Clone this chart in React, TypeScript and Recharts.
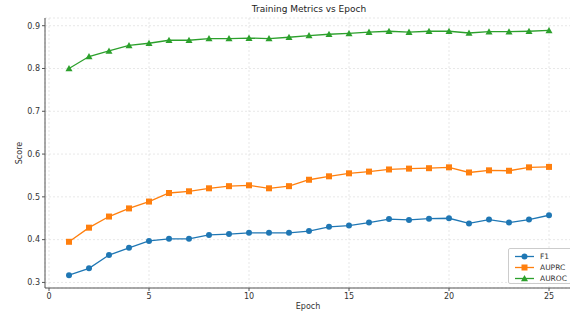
import React from "react";
import {
  LineChart,
  Line,
  XAxis,
  YAxis,
  CartesianGrid,
} from "recharts";

const epochs = [1, 2, 3, 4, 5, 6, 7, 8, 9, 10, 11, 12, 13, 14, 15, 16, 17, 18, 19, 20, 21, 22, 23, 24, 25];

const f1 = [
  0.317, 0.333, 0.364, 0.381, 0.397, 0.402, 0.402, 0.411, 0.413, 0.416, 0.416, 0.416, 0.42,
  0.43, 0.433, 0.44, 0.448, 0.446, 0.449, 0.45, 0.438, 0.447, 0.44, 0.447, 0.457,
];

const auprc = [
  0.395, 0.428, 0.454, 0.473, 0.489, 0.509, 0.513, 0.52, 0.525, 0.527, 0.52, 0.525, 0.54,
  0.548, 0.555, 0.559, 0.564, 0.566, 0.567, 0.569, 0.557, 0.562, 0.561, 0.569, 0.57,
];

const auroc = [
  0.8, 0.828, 0.841, 0.854, 0.859, 0.866, 0.866, 0.87, 0.87, 0.871, 0.87, 0.873, 0.877,
  0.88, 0.882, 0.885, 0.887, 0.885, 0.887, 0.887, 0.883, 0.886, 0.886, 0.887, 0.889,
];

const xTicks = [0, 5, 10, 15, 20, 25];
const yTicks = [0.3, 0.4, 0.5, 0.6, 0.7, 0.8, 0.9];

const series = [
  { key: "F1", color: "#1f77b4", shape: "circle" },
  { key: "AUPRC", color: "#ff7f0e", shape: "square" },
  { key: "AUROC", color: "#2ca02c", shape: "triangle" },
];

const data = epochs.map((e, i) => ({
  epoch: e,
  F1: f1[i],
  AUPRC: auprc[i],
  AUROC: auroc[i],
}));

const font = "'DejaVu Sans', sans-serif";
const axisColor = "#555";
const textColor = "#333";

const Marker = ({ cx, cy, shape, color }: any) => {
  if (cx == null || cy == null) return null;
  if (shape === "square") {
    return <rect x={cx - 3} y={cy - 3} width={6} height={6} fill={color} />;
  }
  if (shape === "triangle") {
    return (
      <polygon
        points={`${cx},${cy - 3.5} ${cx + 3.5},${cy + 2.8} ${cx - 3.5},${cy + 2.8}`}
        fill={color}
      />
    );
  }
  return <circle cx={cx} cy={cy} r={3} fill={color} />;
};

export default function App() {
  return (
    <div
      style={{
        position: "absolute",
        left: 0,
        top: 0,
        width: 570,
        height: 313,
        overflow: "hidden",
        background: "#fff",
        fontFamily: font,
      }}
    >
      <LineChart
        width={600}
        height={313}
        data={data}
        margin={{ top: 18, right: 27, bottom: 0, left: 0 }}
      >
        <CartesianGrid stroke="#ddd" strokeDasharray="2 2" strokeWidth={0.7} />
        <XAxis
          dataKey="epoch"
          type="number"
          domain={[-0.2, 26.2]}
          ticks={xTicks}
          height={25}
          allowDataOverflow
          stroke={axisColor}
          tickSize={3}
          tick={{ fontSize: 8, fill: textColor, fontFamily: font }}
        />
        <XAxis
          xAxisId="top"
          orientation="top"
          dataKey="epoch"
          type="number"
          domain={[-0.2, 26.2]}
          height={0}
          tick={false}
          tickLine={false}
          stroke={axisColor}
        />
        <YAxis
          type="number"
          domain={[0.287, 0.918]}
          ticks={yTicks}
          width={45}
          allowDataOverflow
          stroke={axisColor}
          tickSize={3}
          tickFormatter={(v: number) => v.toFixed(1)}
          tick={{ fontSize: 8, fill: textColor, fontFamily: font }}
        />
        {series.map((s) => (
          <Line
            key={s.key}
            dataKey={s.key}
            stroke={s.color}
            strokeWidth={1.3}
            isAnimationActive={false}
            dot={(p: any) => (
              <Marker key={`${s.key}-${p.index}`} cx={p.cx} cy={p.cy} shape={s.shape} color={s.color} />
            )}
            activeDot={false}
          />
        ))}
      </LineChart>

      <div
        style={{
          position: "absolute",
          left: 0,
          top: 4,
          width: 618,
          textAlign: "center",
          fontSize: 9,
          color: "#222",
        }}
      >
        Training Metrics vs Epoch
      </div>
      <div
        style={{
          position: "absolute",
          left: 248,
          top: 302,
          width: 120,
          textAlign: "center",
          fontSize: 8,
          color: textColor,
        }}
      >
        Epoch
      </div>
      <div
        style={{
          position: "absolute",
          left: 19,
          top: 153,
          fontSize: 8,
          color: textColor,
          transform: "translate(-50%, -50%) rotate(-90deg)",
        }}
      >
        Score
      </div>

      <div
        style={{
          position: "absolute",
          left: 508,
          top: 248,
          width: 70,
          height: 36,
          border: "1px solid #ccc",
          borderRadius: 2,
          background: "rgba(255,255,255,0.85)",
          boxSizing: "border-box",
          paddingTop: 2,
        }}
      >
        {series.map((s) => (
          <div
            key={s.key}
            style={{ display: "flex", alignItems: "center", height: 11, fontSize: 7.5, color: textColor }}
          >
            <svg width={26} height={11} style={{ marginLeft: 3 }}>
              <line x1={3} y1={5.5} x2={22} y2={5.5} stroke={s.color} strokeWidth={1.3} />
              <Marker cx={12.5} cy={5.5} shape={s.shape} color={s.color} />
            </svg>
            <span style={{ marginLeft: 2 }}>{s.key}</span>
          </div>
        ))}
      </div>
    </div>
  );
}
